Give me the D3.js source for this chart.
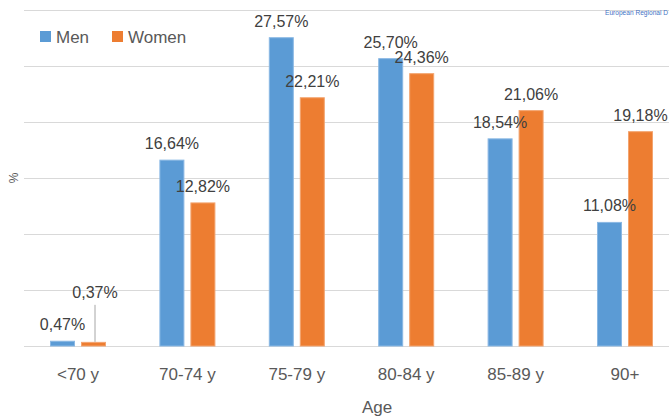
<!DOCTYPE html>
<html>
<head>
<meta charset="utf-8">
<script src="https://cdn.jsdelivr.net/npm/d3@7"></script>
<style>
  html, body { margin: 0; padding: 0; background: #fff; }
  svg { display: block; font-family: "Liberation Sans", Arial, sans-serif; }
</style>
</head>
<body>
<div id="chart"></div>
<script>
// Age distribution of men and women, %
const categories = ["<70 y", "70-74 y", "75-79 y", "80-84 y", "85-89 y", "90+"];
const series = ["Men", "Women"];
const men = [0.47, 16.64, 27.57, 25.70, 18.54, 11.08];
const women = [0.37, 12.82, 22.21, 24.36, 21.06, 19.18];
const yTicks = [0, 5, 10, 15, 20, 25, 30];

const width = 669, height = 417;
const colors = {Men: "#5b9bd5", Women: "#ed7d31"};
const strokes = {Men: "#8ab8e4", Women: "#f3a46f"};

const svg = d3.select("#chart").append("svg")
  .attr("width", width).attr("height", height).attr("viewBox", `0 0 ${width} ${height}`);

const fmt = d3.formatLocale({decimal: ",", thousands: ".", grouping: [3], currency: ["", "%"]}).format(".2f");

const x = d3.scaleBand().domain(categories).range([23.3, 679.7]).padding(0);
const xs = d3.scaleBand().domain(series).range([x.bandwidth() / 2 - 28, x.bandwidth() / 2 + 28])
  .paddingInner(2 - 56 / 31);
const y = d3.scaleLinear().domain([0, 30]).range([346, 10]);

// gridlines
svg.append("g").attr("transform", "translate(24,0)")
  .call(d3.axisLeft(y).tickValues(yTicks).tickSize(-(width - 24)).tickFormat(""))
  .call(g => g.select(".domain").remove())
  .call(g => g.selectAll("line").attr("stroke", "#d9d9d9").attr("stroke-width", 1));

// category labels
svg.append("g").attr("transform", "translate(0,346)")
  .call(d3.axisBottom(x).tickSize(0).tickPadding(0))
  .call(g => g.select(".domain").remove())
  .call(g => g.selectAll("text").attr("dy", 0).attr("y", 34)
    .attr("font-size", 17).attr("fill", "#595959").attr("font-family", null));

const rows = [];
categories.forEach((c, i) => {
  rows.push({cat: c, s: "Men", v: men[i], i});
  rows.push({cat: c, s: "Women", v: women[i], i});
});

svg.append("g").selectAll("rect").data(rows).join("rect")
  .attr("x", d => x(d.cat) + xs(d.s) + 0.5)
  .attr("y", d => y(d.v) + 0.5)
  .attr("width", xs.bandwidth() - 1)
  .attr("height", d => y(0) - y(d.v) - 0.5)
  .attr("fill", d => colors[d.s])
  .attr("stroke", d => strokes[d.s]).attr("stroke-width", 1);

// value labels (the small women's <70 label is lifted with a leader line, as in the source)
const lifted = d => d.s === "Women" && d.i === 0;
const lift = 33;
svg.append("g").selectAll("text").data(rows).join("text")
  .attr("x", d => x(d.cat) + xs(d.s) + xs.bandwidth() / 2 + (lifted(d) ? 1.5 : 0))
  .attr("y", d => y(d.v) - 10.5 - (lifted(d) ? lift : 0))
  .attr("text-anchor", "middle").attr("font-size", 16).attr("fill", "#404040")
  .text(d => fmt(d.v) + "%");

svg.append("g").selectAll("line").data(rows.filter(lifted)).join("line")
  .attr("x1", d => x(d.cat) + xs(d.s) + xs.bandwidth() / 2 + 1.5)
  .attr("x2", d => x(d.cat) + xs(d.s) + xs.bandwidth() / 2 + 1.5)
  .attr("y1", d => y(d.v) - 37)
  .attr("y2", d => y(d.v))
  .attr("stroke", "#a6a6a6").attr("stroke-width", 1);

// axis titles
svg.append("text").attr("x", 377).attr("y", 413).attr("text-anchor", "middle")
  .attr("font-size", 17).attr("fill", "#595959").text("Age");
svg.append("text").attr("transform", "translate(18,178) rotate(-90)")
  .attr("text-anchor", "middle").attr("font-size", 12).attr("fill", "#595959").text("%");

// legend
const legend = svg.append("g").attr("transform", "translate(40,31)");
series.forEach((s, i) => {
  const gx = i * 72;
  legend.append("rect").attr("x", gx).attr("y", 0).attr("width", 11).attr("height", 11)
    .attr("fill", colors[s]);
  legend.append("text").attr("x", gx + 16).attr("y", 11.5)
    .attr("font-size", 17).attr("fill", "#595959").text(s);
});

// source fragment, top right (cut off in the reference image)
svg.append("text").attr("x", 605).attr("y", 15).attr("font-size", 6.6).attr("fill", "#4472c4")
  .text("European Regional D");
</script>
</body>
</html>
